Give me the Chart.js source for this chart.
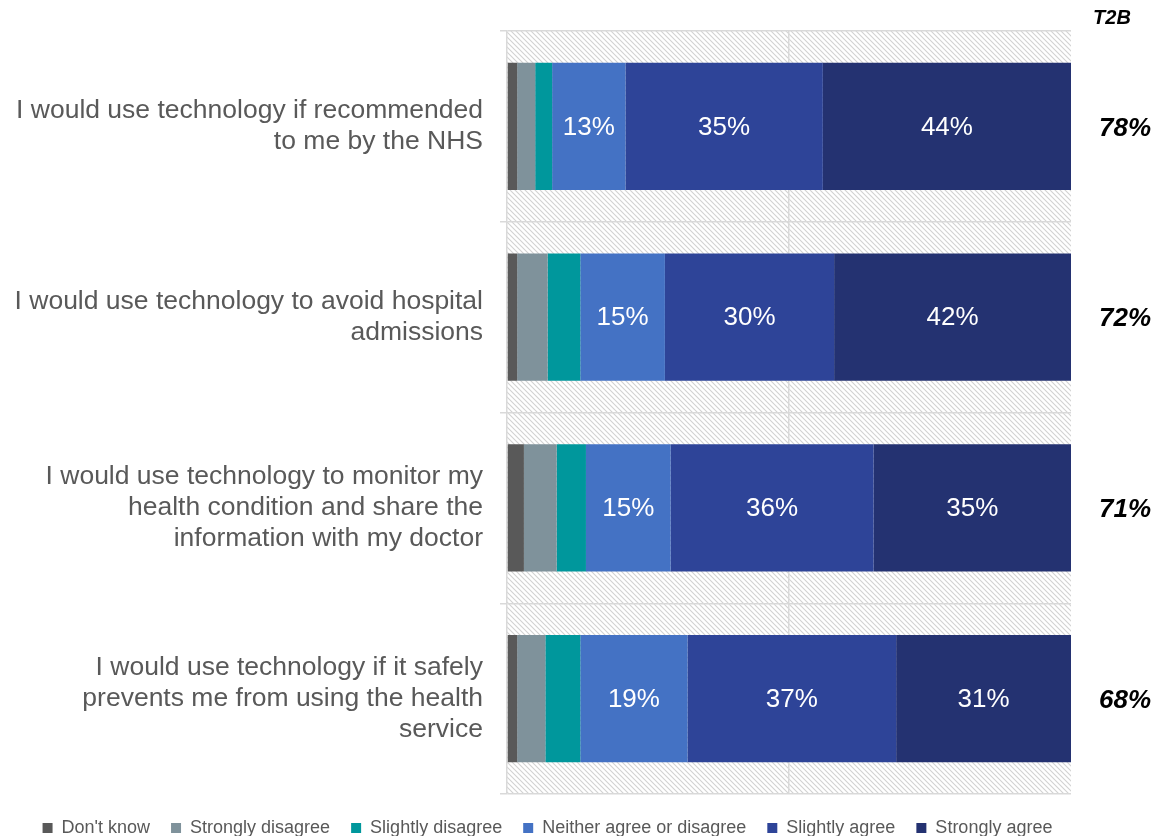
<!DOCTYPE html>
<html>
<head>
<meta charset="utf-8">
<script src="https://cdn.jsdelivr.net/npm/chart.js@4/dist/chart.umd.min.js"></script>
<style>
  html, body { margin: 0; padding: 0; background: #ffffff; }
  #wrap { width: 1157px; height: 836px; position: relative; }
</style>
</head>
<body>
<div id="wrap"><canvas id="chart"></canvas></div>
<script>
// Survey statements (one bar each)
const categories = [
  ["I would use technology if recommended", "to me by the NHS"],
  ["I would use technology to avoid hospital", "admissions"],
  ["I would use technology to monitor my", "health condition and share the", "information with my doctor"],
  ["I would use technology if it safely", "prevents me from using the health", "service"]
];

// Response shares, percent of respondents
const dontKnow          = [1.8, 1.8, 3.0, 1.8];
const stronglyDisagree  = [3.2, 5.4, 5.8, 5.0];
const slightlyDisagree  = [3.0, 5.8, 5.2, 6.2];
const neither           = [13, 15, 15, 19];
const slightlyAgree     = [35, 30, 36, 37];
const stronglyAgree     = [44, 42, 35, 31];

// Top-two-box totals shown in the right column
const t2bHeader = "T2B";
const t2bValues = [78, 72, 71, 68];

const seriesNames = ["Don't know", "Strongly disagree", "Slightly disagree",
                     "Neither agree or disagree", "Slightly agree", "Strongly agree"];
const seriesData = [dontKnow, stronglyDisagree, slightlyDisagree, neither, slightlyAgree, stronglyAgree];
const seriesColors = ["#595959", "#7f929b", "#00979c", "#4472c4", "#2e4498", "#243271"];
const labelledSeries = [3, 4, 5];

const FONT = "'Liberation Sans', Arial, sans-serif";
const GRID = "#d9d9d9";

// Diagonal hatch fill for the plot background
function makeHatch() {
  const s = 5;
  const c = document.createElement('canvas');
  c.width = s; c.height = s;
  const g = c.getContext('2d');
  g.fillStyle = '#ffffff';
  g.fillRect(0, 0, s, s);
  g.strokeStyle = '#d2d2d2';
  g.lineWidth = 1.1;
  g.beginPath();
  g.moveTo(-1, -1); g.lineTo(s + 1, s + 1);
  g.moveTo(-1, s - 1); g.lineTo(1, s + 1);
  g.moveTo(s - 1, -1); g.lineTo(s + 1, 1);
  g.stroke();
  return c;
}

const hatchBackground = {
  id: 'hatchBackground',
  beforeDraw(chart) {
    const { ctx, chartArea: a } = chart;
    ctx.save();
    ctx.fillStyle = ctx.createPattern(makeHatch(), 'repeat');
    ctx.fillRect(a.left, a.top, a.right - a.left, a.bottom - a.top);
    ctx.restore();
  }
};

// Nudge the legend row so it sits a little right of the canvas centre
const legendOffset = {
  id: 'legendOffset',
  afterLayout(chart) {
    if (chart.legend) {
      chart.legend.left += 12;
      chart.legend.right += 12;
    }
  }
};

// Percent labels inside the agree/neutral segments
const segmentLabels = {
  id: 'segmentLabels',
  afterDatasetsDraw(chart) {
    const { ctx } = chart;
    ctx.save();
    ctx.font = "26px " + FONT;
    ctx.fillStyle = "#ffffff";
    ctx.textAlign = "center";
    ctx.textBaseline = "middle";
    labelledSeries.forEach(di => {
      const meta = chart.getDatasetMeta(di);
      meta.data.forEach((bar, i) => {
        const cx = (bar.x + bar.base) / 2;
        ctx.fillText(seriesData[di][i] + "%", cx, bar.y + 1);
      });
    });
    ctx.restore();
  }
};

// T2B column to the right of the bars
const t2bColumn = {
  id: 't2bColumn',
  afterDraw(chart) {
    const { ctx } = chart;
    const yScale = chart.scales.y;
    ctx.save();
    ctx.fillStyle = "#000000";
    ctx.textAlign = "center";
    ctx.textBaseline = "middle";
    ctx.font = "italic bold 20px " + FONT;
    ctx.fillText(t2bHeader, 1112, 18);
    ctx.font = "italic bold 26px " + FONT;
    t2bValues.forEach((v, i) => {
      ctx.fillText(v + "%", 1125, yScale.getPixelForValue(i) + 2);
    });
    ctx.restore();
  }
};

new Chart(document.getElementById('chart'), {
  type: 'bar',
  data: {
    labels: categories,
    datasets: seriesNames.map((name, i) => ({
      label: name,
      data: seriesData[i],
      backgroundColor: seriesColors[i],
      borderWidth: 0,
      categoryPercentage: 1.0,
      barPercentage: 0.667
    }))
  },
  options: {
    indexAxis: 'y',
    responsive: true,
    maintainAspectRatio: false,
    animation: false,
    layout: { padding: { top: 31, right: 86, bottom: 0, left: 0 } },
    scales: {
      x: {
        stacked: true,
        min: 0,
        max: 100,
        ticks: { display: false, stepSize: 50 },
        grid: {
          color: c => (c.tick && c.tick.value === 50) ? GRID : 'rgba(0,0,0,0)',
          lineWidth: 1.5,
          drawTicks: true,
          tickLength: 4,
          tickColor: 'rgba(0,0,0,0)'
        },
        border: { display: false }
      },
      y: {
        stacked: true,
        afterFit(scale) {
          scale.width = 507;
          scale.paddingTop = 0;
          scale.paddingBottom = 0;
        },
        ticks: {
          color: '#595959',
          padding: 17,
          font: { family: FONT, size: 26.5, lineHeight: 1.18 }
        },
        grid: {
          color: GRID,
          lineWidth: 1.5,
          offset: true,
          drawTicks: true,
          tickLength: 7
        },
        border: { display: true, color: GRID, width: 1.5 }
      }
    },
    plugins: {
      legend: {
        position: 'bottom',
        maxHeight: 38,
        labels: {
          boxWidth: 10,
          boxHeight: 10,
          padding: 21,
          color: '#595959',
          font: { family: FONT, size: 18 }
        }
      },
      tooltip: { enabled: false }
    }
  },
  plugins: [hatchBackground, legendOffset, segmentLabels, t2bColumn]
});
</script>
</body>
</html>
